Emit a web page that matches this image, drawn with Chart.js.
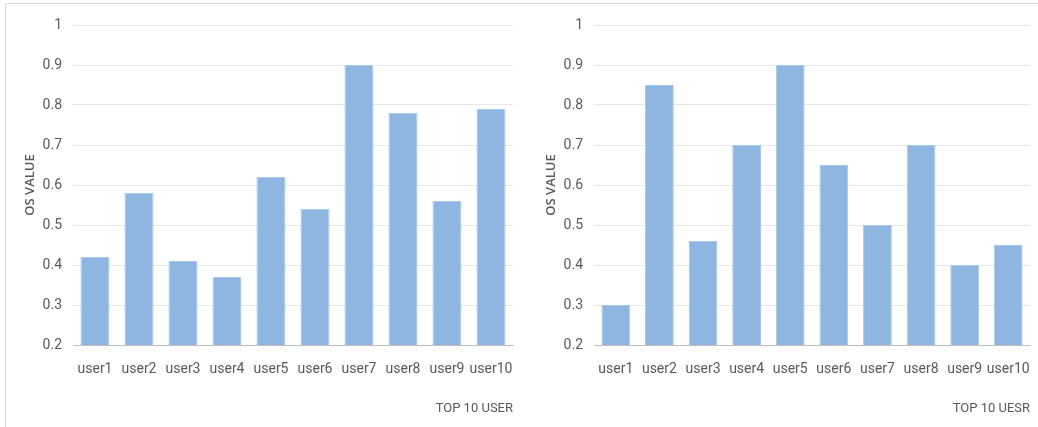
<!DOCTYPE html>
<html lang="en">
<head>
    <meta charset="UTF-8">
    <title>OS Value - Top 10 Users</title>
    <script src="https://cdn.jsdelivr.net/npm/chart.js"></script>
    <style>
        body { margin: 0; background: #fff; width: 1038px; height: 427px; overflow: hidden; position: relative; }
        .panel { position: absolute; top: 3px; border-top: 1px solid #d9d9d9; background: #fff; }
        #leftPanel { left: 5px; width: 521px; height: 430px; border-left: 1px solid #d9d9d9; border-right: 1px solid #d9d9d9; }
        #rightPanel { left: 527px; width: 511px; height: 430px; }
    </style>
</head>
<body>
    <div class="panel" id="leftPanel"><canvas id="leftChart" width="521" height="423"></canvas></div>
    <div class="panel" id="rightPanel"><canvas id="rightChart" width="511" height="423"></canvas></div>

    <script>
        // data
        const users = ['user1', 'user2', 'user3', 'user4', 'user5', 'user6', 'user7', 'user8', 'user9', 'user10'];
        const leftValues = [0.42, 0.58, 0.41, 0.37, 0.62, 0.54, 0.90, 0.78, 0.56, 0.79];
        const rightValues = [0.30, 0.85, 0.46, 0.70, 0.90, 0.65, 0.50, 0.70, 0.40, 0.45];
        const yTicks = [0.2, 0.3, 0.4, 0.5, 0.6, 0.7, 0.8, 0.9, 1];

        const font = "'Liberation Sans Narrow', 'Roboto', sans-serif";

        function makeChart(id, values, xTitle, padRight) {
            const ctx = document.getElementById(id).getContext('2d');
            return new Chart(ctx, {
                type: 'bar',
                data: {
                    labels: users,
                    datasets: [{
                        label: 'OS VALUE',
                        data: values,
                        backgroundColor: 'rgba(141, 182, 224, 1)',
                        borderColor: 'rgba(168, 200, 234, 1)',
                        borderWidth: 1,
                        categoryPercentage: 1,
                        barPercentage: 0.66
                    }]
                },
                options: {
                    responsive: false,
                    animation: false,
                    layout: { padding: { top: 21, right: padRight, bottom: 8, left: 0 } },
                    plugins: { legend: { display: false }, tooltip: { enabled: false } },
                    scales: {
                        x: {
                            grid: { display: false },
                            border: { color: '#bfbfbf', width: 1 },
                            ticks: {
                                color: '#595959', font: { family: font, size: 14 }, padding: 8,
                                maxRotation: 0, minRotation: 0, autoSkip: false
                            },
                            title: {
                                display: true, text: xTitle, align: 'end', color: '#595959',
                                font: { family: font, size: 13 }, padding: { top: 18, bottom: 2 }
                            },
                            afterFit: s => { s.height = 74; }
                        },
                        y: {
                            min: 0.2,
                            max: 1,
                            afterBuildTicks: s => { s.ticks = yTicks.map(v => ({ value: v })); },
                            grid: { color: '#e6e6e6', drawTicks: false },
                            border: { display: false },
                            ticks: {
                                color: '#595959', font: { family: font, size: 14 }, padding: 11,
                                callback: v => String(Math.round(v * 10) / 10)
                            },
                            title: {
                                display: true, text: 'OS VALUE', color: '#595959',
                                font: { family: "'Open Sans', sans-serif", size: 13, weight: '600' },
                                padding: { top: 16, bottom: 0 }
                            },
                            afterFit: s => { s.width = 67; }
                        }
                    }
                }
            });
        }

        makeChart('leftChart', leftValues, 'TOP 10 USER', 14);
        makeChart('rightChart', rightValues, 'TOP 10 UESR', 6);
    </script>
</body>
</html>
